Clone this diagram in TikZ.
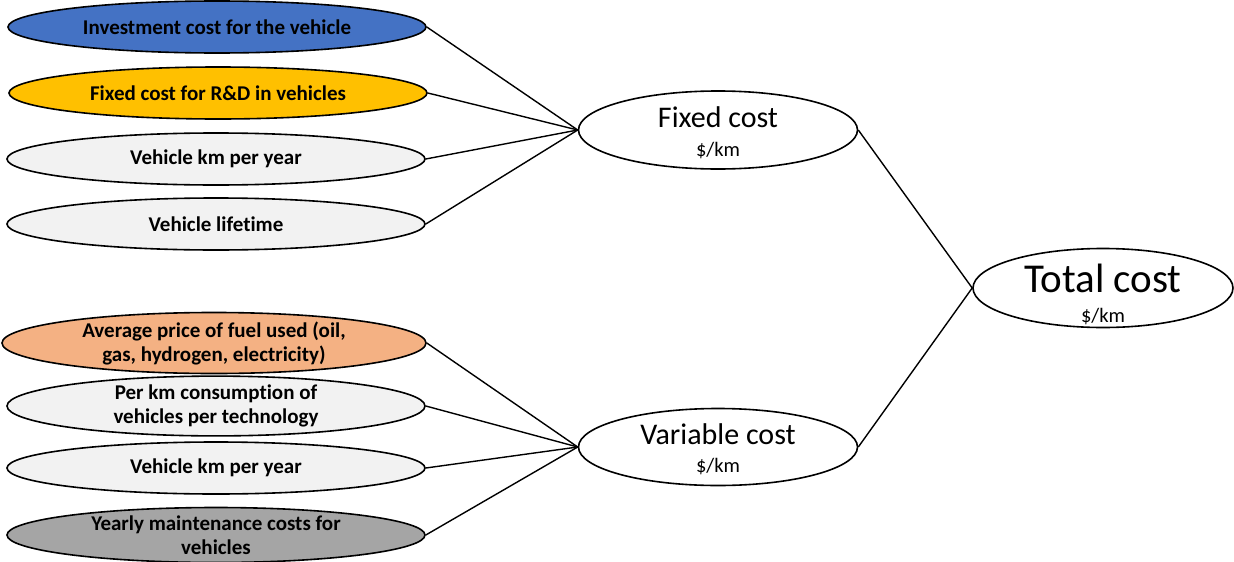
\documentclass[tikz,border=0pt]{standalone}
\usepackage{fontspec}
\setmainfont[Ligatures=CommonOff]{Carlito}
\usetikzlibrary{shapes.geometric}
\definecolor{cblue}{HTML}{4472C4}
\definecolor{cgold}{HTML}{FFC000}
\definecolor{clight}{HTML}{F2F2F2}
\definecolor{corange}{HTML}{F4B183}
\definecolor{cgrey}{HTML}{A5A5A5}
\tikzset{
  leaf/.style={ellipse, draw=black, line width=1.6pt, minimum width=418pt, minimum height=52pt, inner sep=0pt, align=center, font=\fontsize{21}{24}\selectfont\bfseries},
  mid/.style={ellipse, draw=black, line width=1.6pt, minimum width=279pt, minimum height=78pt, inner sep=0pt, fill=white},
  title/.style={anchor=base, inner sep=0pt, font=\fontsize{30}{34}\selectfont},
  unit/.style={anchor=base, inner sep=0pt, font=\fontsize{20.5}{24}\selectfont},
  conn/.style={line width=1.4pt, draw=black}
}
\begin{document}
\begin{tikzpicture}[x=1pt,y=-1pt]
\useasboundingbox (0,0) rectangle (1234,562);
\node[leaf, fill=cblue] (a1) at (217,27) {Investment cost for the vehicle};
\node[leaf, fill=cgold] (a2) at (218,93) {Fixed cost for R\&D in vehicles};
\node[leaf, fill=clight] (a3) at (216,159) {Vehicle km per year};
\node[leaf, fill=clight] (a4) at (216,224) {Vehicle lifetime};
\node[leaf, fill=corange, minimum width=424pt, minimum height=54pt] (b1) at (214,343) {Average price of fuel used (oil,\\gas, hydrogen, electricity)};
\node[leaf, fill=clight] (b2) at (216,406) {Per km consumption of\\vehicles per technology};
\node[leaf, fill=clight] (b3) at (216,468) {Vehicle km per year};
\node[leaf, fill=cgrey] (b4) at (216,535) {Yearly maintenance costs for\\vehicles};
\node[mid] (f) at (718,130) {};
\node[title] (ft) at (718,127) {Fixed cost};
\node[unit] (fu) at (718,156) {\$/km};
\node[mid, minimum height=77pt] (v) at (718,447) {};
\node[title] (vt) at (718,444) {Variable cost};
\node[unit] (vu) at (718,472) {\$/km};
\node[mid, minimum width=260pt, minimum height=79pt] (t) at (1103,288) {};
\node[title, font=\fontsize{41}{46}\selectfont] (tt) at (1103,292) {Total cost};
\node[unit] (tu) at (1103,322) {\$/km};
\foreach \n in {a1,a2,a3,a4} \draw[conn] (\n.east) -- (f.west);
\foreach \n in {b1,b2,b3,b4} \draw[conn] (\n.east) -- (v.west);
\draw[conn] (f.east) -- (t.west);
\draw[conn] (v.east) -- (t.west);
\end{tikzpicture}
\end{document}
